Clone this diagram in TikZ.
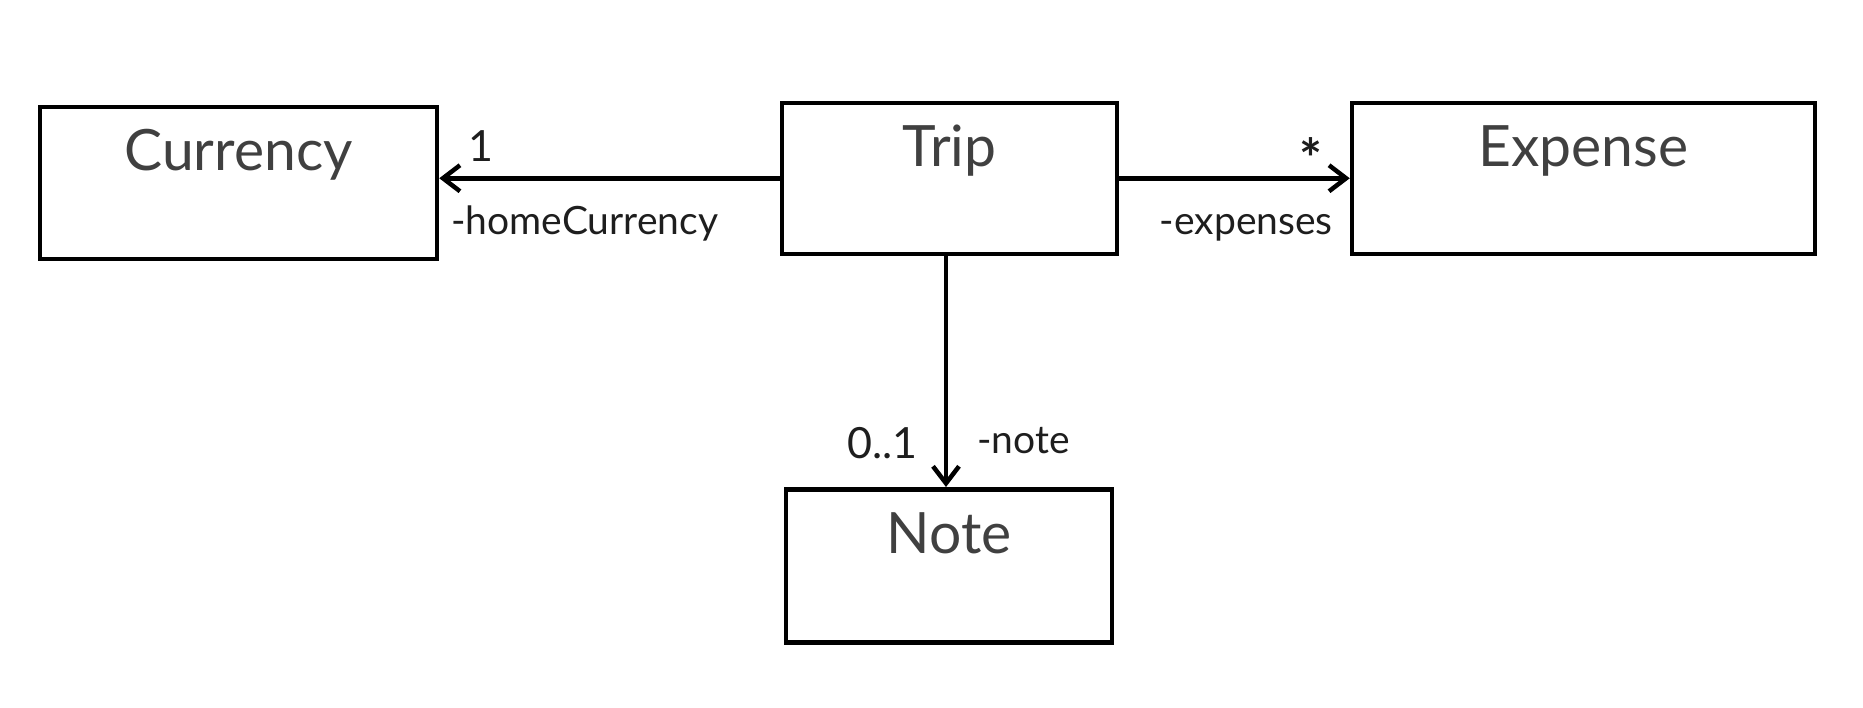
\documentclass[tikz,border=0pt]{standalone}
\usepackage{fontspec}
\setmainfont{Lato}
\usepackage{tikz}
\usetikzlibrary{arrows.meta}

\definecolor{titlegray}{HTML}{404040}
\definecolor{rolegray}{HTML}{1E1E1E}

\tikzset{
  classbox/.style={draw, line width=4.5pt, rectangle, anchor=north, inner sep=0pt,
    text=titlegray, font=\fontsize{57}{60}\selectfont, text height=64pt},
  assoc/.style={line width=4.5pt, -{Straight Barb[length=17pt, width=26pt, line width=4.5pt]}},
  rolelabel/.style={text=rolegray, inner sep=0pt, font=\fontsize{39}{42}\selectfont},
  multlabel/.style={text=rolegray, inner sep=0pt, font=\fontsize{43}{46}\selectfont}
}

\begin{document}
\begin{tikzpicture}[x=1pt, y=-1pt]
    \useasboundingbox (0,0) rectangle (1863,707);

    % 1. The four classes
    \node[classbox, minimum width=397pt, text depth=88pt] (currency) at (238.5,104.5) {Currency};
    \node[classbox, minimum width=335pt, text depth=87pt] (trip) at (949.5,100.5) {Trip};
    \node[classbox, minimum width=463pt, text depth=87pt] (expense) at (1583.5,100.5) {Expense};
    \node[classbox, minimum width=326pt, text depth=89pt] (note) at (949,487) {Note};

    % 2. Associations
    \draw[assoc] (trip.west) -- (trip.west -| currency.east);
    \draw[assoc] (trip.east) -- (expense.west |- trip.east);
    \draw[assoc] (trip.south -| 946,0) -- (note.north -| 946,0);

    % --- Multiplicities and roles ---
    \node[multlabel] (multcur) at (481,146) {1};
    \node[rolelabel, anchor=base west] (rolecur) at (451,234) {-homeCurrency};

    \node[multlabel, font=\bfseries\fontsize{54}{56}\selectfont] (multexp) at (1311,158) {*};
    \node[rolelabel, anchor=base east] (roleexp) at (1333,234) {-expenses};

    \node[multlabel, anchor=east] (multnote) at (918,443) {0..1};
    \node[rolelabel, anchor=west] (rolenote) at (977,441) {-note};

\end{tikzpicture}
\end{document}
